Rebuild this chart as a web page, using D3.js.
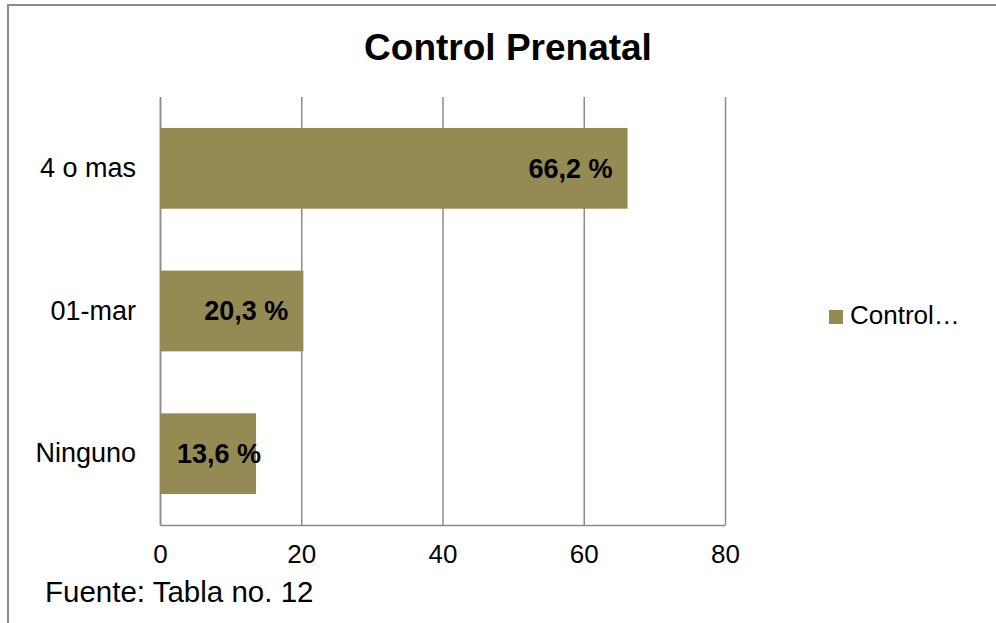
<!DOCTYPE html>
<html>
<head>
<meta charset="utf-8">
<script src="https://cdn.jsdelivr.net/npm/d3@7"></script>
<style>
    body { margin: 0; background: #fff; }
    text { font-family: "Liberation Sans", Arial, sans-serif; fill: #000; }
</style>
</head>
<body>
<svg width="996" height="623"></svg>
<script>
// chart data
let categories = ["4 o mas", "01-mar", "Ninguno"];
let values = [66.2, 20.3, 13.6];
let valueLabels = ["66,2 %", "20,3 %", "13,6 %"];
let xTicks = [0, 20, 40, 60, 80];
let seriesName = "Control…";

let svg = d3.select("svg"),
    margin = {top: 97, right: 271, bottom: 98, left: 160},
    width = +svg.attr("width") - margin.left - margin.right,
    height = +svg.attr("height") - margin.top - margin.bottom;

let barColor = "#948a54",
    gridColor = "#8c8c8c";

// outer frame (runs off the right and bottom edge)
svg.append("rect")
    .attr("x", 8)
    .attr("y", 5)
    .attr("width", 1000)
    .attr("height", 640)
    .attr("fill", "none")
    .attr("stroke", gridColor)
    .attr("stroke-width", 2);

svg.append("text")
    .attr("x", 508)
    .attr("y", 60)
    .attr("text-anchor", "middle")
    .style("font-size", "37px")
    .style("font-weight", "bold")
    .text("Control Prenatal");

let x = d3.scaleLinear().domain([0, 80]).range([0, width]),
    y = d3.scaleBand().domain(categories).range([0, height])
        .paddingInner(0.434).paddingOuter(0.217);

let g = svg.append("g")
    .attr("transform", "translate(" + margin.left + "," + margin.top + ")");

// vertical gridlines
g.append("g")
    .call(d3.axisBottom(x).tickValues(xTicks).tickSize(height).tickFormat(""))
    .call(function (a) {
        a.select(".domain").remove();
        a.selectAll("line").attr("stroke", gridColor).attr("stroke-width", 1.5);
    });

// x axis
g.append("g")
    .attr("transform", "translate(0," + height + ")")
    .call(d3.axisBottom(x).tickValues(xTicks).tickSize(0).tickPadding(20))
    .call(function (a) {
        a.select(".domain").attr("stroke", gridColor).attr("stroke-width", 1.5);
        a.selectAll("text").style("font-size", "26px").style("font-family", "'Liberation Sans', Arial, sans-serif");
    });

// y axis
g.append("g")
    .call(d3.axisLeft(y).tickSize(0).tickPadding(24))
    .call(function (a) {
        a.select(".domain").attr("stroke", gridColor).attr("stroke-width", 1.5);
        a.selectAll("text").style("font-size", "27px").style("font-family", "'Liberation Sans', Arial, sans-serif");
    });

let data = categories.map(function (c, i) {
    return {cat: c, value: values[i], label: valueLabels[i]};
});

g.selectAll(".bar")
    .data(data)
    .enter().append("rect")
    .attr("class", "bar")
    .attr("x", x(0))
    .attr("y", function (d) { return y(d.cat); })
    .attr("width", function (d) { return x(d.value) - x(0); })
    .attr("height", y.bandwidth())
    .attr("fill", barColor);

// value labels, inside end (pushed right when the bar is short)
g.selectAll(".vlabel")
    .data(data)
    .enter().append("text")
    .attr("class", "vlabel")
    .attr("y", function (d) { return y(d.cat) + y.bandwidth() / 2; })
    .attr("dy", "0.35em")
    .attr("text-anchor", "end")
    .style("font-size", "27px")
    .style("font-weight", "bold")
    .text(function (d) { return d.label; })
    .attr("x", function (d) {
        let w = this.getComputedTextLength();
        return Math.max(x(d.value) - 15, x(0) + 17 + w);
    });

// legend
let legend = svg.append("g").attr("transform", "translate(829,310)");
legend.append("rect")
    .attr("width", 14)
    .attr("height", 14)
    .attr("fill", barColor);
legend.append("text")
    .attr("x", 21)
    .attr("y", 14)
    .style("font-size", "26px")
    .text(seriesName);

svg.append("text")
    .attr("x", 45)
    .attr("y", 602)
    .style("font-size", "29.5px")
    .text("Fuente: Tabla no. 12");
</script>
</body>
</html>
